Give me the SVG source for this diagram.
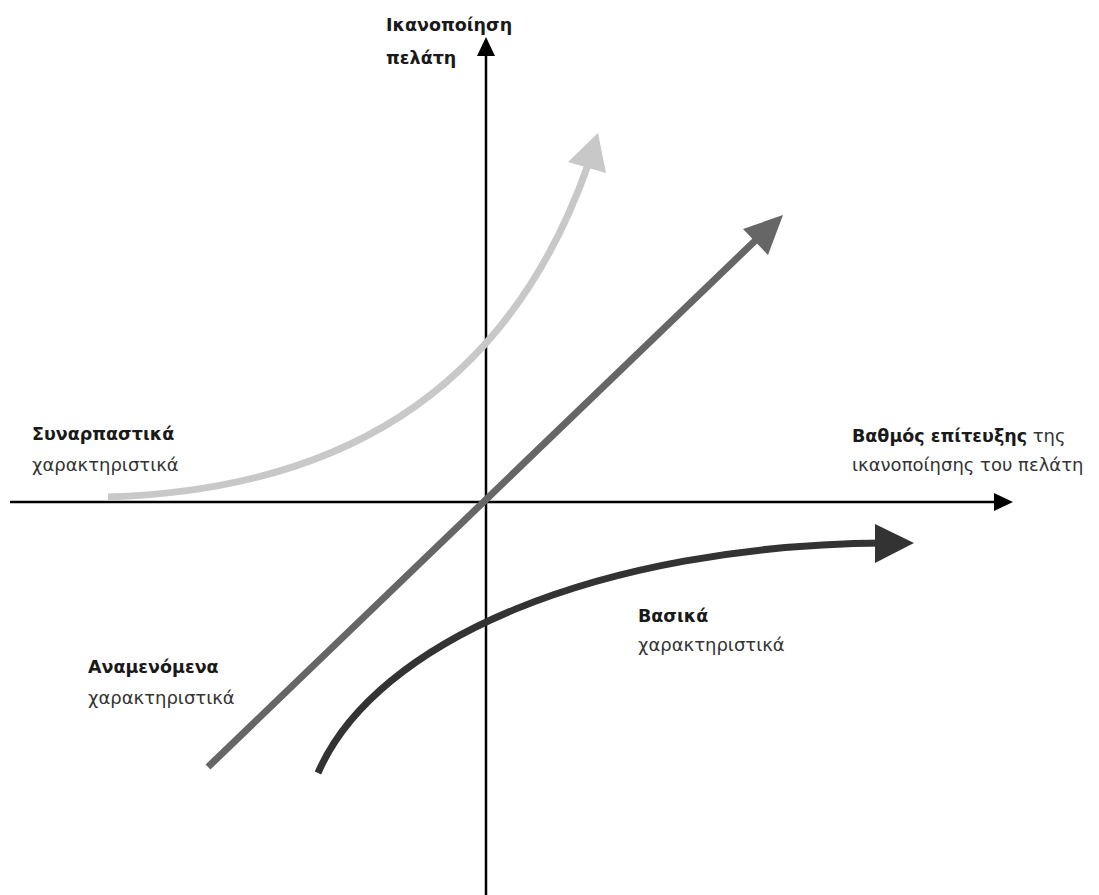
<svg xmlns="http://www.w3.org/2000/svg" width="1099" height="895" viewBox="0 0 1099 895">
<style>
text{font-family:"DejaVu Sans","Liberation Sans",sans-serif;font-size:17.5px;fill:#1a1a1a}
.b{font-weight:bold}
.r{fill:#333;font-size:18px}
.ax{stroke:#000;stroke-width:2.5;fill:none}
</style>
<rect width="1099" height="895" fill="#fff"/>
<g id="connectors">
<path class="ax" d="M486,895 V52"/>
<polygon points="486,37 477,56 495,56" fill="#000"/>
<path class="ax" d="M10,502 H998"/>
<polygon points="1013,502 994,493 994,511" fill="#000"/>
<path id="exciting" d="M108,497 C330,490 505,400 588,165" stroke="#c8c8c8" stroke-width="7" fill="none"/>
<polygon points="598,133 568,162 606,173" fill="#c8c8c8"/>
<path id="expected" d="M208,767 L760,236" stroke="#666" stroke-width="7" fill="none"/>
<polygon points="783,215 743,229 768,255" fill="#666"/>
<path id="basic" d="M318,773 C375,640 600,545 885,543" stroke="#333" stroke-width="7" fill="none"/>
<polygon points="914,543 875,524 875,563" fill="#333"/>
</g>
<g id="y-label"><text class="b" x="386" y="31">Ικανοποίηση</text><text class="b" x="386" y="64">πελάτη</text></g>
<g id="x-label"><text x="852" y="442"><tspan class="b">Βαθμός επίτευξης</tspan> <tspan class="r">της</tspan></text><text class="r" x="852" y="471">ικανοποίησης του πελάτη</text></g>
<g id="exciting-label"><text class="b" x="32" y="440">Συναρπαστικά</text><text class="r" x="32" y="471">χαρακτηριστικά</text></g>
<g id="basic-label"><text class="b" x="638" y="622">Βασικά</text><text class="r" x="638" y="651">χαρακτηριστικά</text></g>
<g id="expected-label"><text class="b" x="88" y="673">Αναμενόμενα</text><text class="r" x="88" y="704">χαρακτηριστικά</text></g>
</svg>
